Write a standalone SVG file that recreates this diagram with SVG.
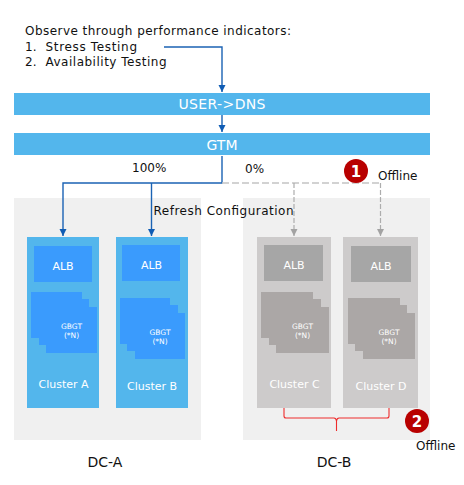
<svg xmlns="http://www.w3.org/2000/svg" width="464" height="485" viewBox="0 0 464 485">
<style>
text{font-family:"DejaVu Sans",Verdana,sans-serif;}
.k{fill:#111;font-size:12px}
.m{text-anchor:middle}
.w{fill:#fff;text-anchor:middle}
.bar{fill:#53b6ec}
.dc{fill:#f0f0f0}
.ca{fill:#53b6ec}.cg{fill:#cdcbcb}
.ia{fill:#3a9bfd}.ig{fill:#a6a6a6}.sg{fill:#aba7a6}
.l{fill:none;stroke:#1b63b4;stroke-width:1.4}
.d{fill:none;stroke:#c4c4c4;stroke-width:1.7;stroke-dasharray:7 3}
.d2{fill:none;stroke:#adadad;stroke-width:1.2;stroke-dasharray:5 2}
.b{fill:#b80000}
.n{fill:#fff;font-size:15px;font-weight:bold;text-anchor:middle}
.t{font-size:14px}
.a{font-size:11px}
.g{font-size:7.500px}
.c{font-size:11px}
.h{font-size:14px}
</style>
<defs>
<marker id="a" markerUnits="userSpaceOnUse" markerWidth="8" markerHeight="8" refX="7" refY="3.5" orient="auto"><path d="M0 0L7 3.5L0 7z" fill="#0f5cb4"/></marker>
<marker id="g" markerUnits="userSpaceOnUse" markerWidth="8" markerHeight="8" refX="7" refY="3.5" orient="auto"><path d="M0 0L7 3.5L0 7z" fill="#a3a3a3"/></marker>
</defs>
<g id="dc-a"><rect class="dc" x="14" y="198" width="187" height="242"/><text class="k m t" x="105" y="467">DC-A</text></g>
<g id="dc-b"><rect class="dc" x="243" y="198" width="187" height="242"/><text class="k m t" x="334" y="467">DC-B</text></g>
<g id="note"><text class="k" x="25" y="35" textLength="266">Observe through performance indicators:</text><text class="k" x="25" y="51">1.</text><text class="k" x="45.500" y="51" textLength="91.500">Stress Testing</text><text class="k" x="25" y="66">2.</text><text class="k" x="45.500" y="66" textLength="121">Availability Testing</text></g>
<g id="user-dns"><rect class="bar" x="14" y="93" width="416" height="22"/><text class="w h" x="222" y="109" textLength="87">USER-&gt;DNS</text></g>
<g id="gtm"><rect class="bar" x="14" y="133" width="416" height="22"/><text class="w h" x="222" y="150">GTM</text></g>
<g id="cluster-a"><rect class="ca" x="27" y="237" width="72" height="171"/><rect class="ia" x="34" y="246" width="58" height="36"/><text class="w a" x="63" y="269.500">ALB</text><path class="ia" d="M31 292H82V299H89V307H97V353H46V345H39V338H31z"/><text class="w g" x="71.500" y="329">GBGT</text><text class="w g" x="71.500" y="337.500">(*N)</text><text class="w c" x="63.500" y="388">Cluster A</text></g>
<g id="cluster-b"><rect class="ca" x="116" y="237" width="72" height="171"/><rect class="ia" x="122" y="245" width="58" height="36"/><text class="w a" x="151.500" y="268.500">ALB</text><path class="ia" d="M120 298H170V305H178V313H185V359H135V351H127V344H120z"/><text class="w g" x="160" y="335">GBGT</text><text class="w g" x="160" y="343.500">(*N)</text><text class="w c" x="152" y="390">Cluster B</text></g>
<g id="cluster-c"><rect class="cg" x="257" y="237" width="74" height="171"/><rect class="ig" x="264" y="245" width="59" height="36"/><text class="w a" x="294" y="268.500">ALB</text><path class="sg" d="M261 292H313V299H321V307H329V353H276V345H269V338H261z"/><text class="w g" x="302.500" y="329">GBGT</text><text class="w g" x="302.500" y="337.500">(*N)</text><text class="w c" x="294.500" y="388">Cluster C</text></g>
<g id="cluster-d"><rect class="cg" x="343" y="237" width="75" height="171"/><rect class="ig" x="351" y="246" width="60" height="36"/><text class="w a" x="381" y="269.500">ALB</text><path class="sg" d="M348 298H400V305H407V313H415V359H363V351H355V344H348z"/><text class="w g" x="389" y="335">GBGT</text><text class="w g" x="389" y="343.500">(*N)</text><text class="w c" x="381" y="390">Cluster D</text></g>
<g id="connectors">
<path class="l" marker-end="url(#a)" d="M164 47H222V92"/>
<path class="l" marker-end="url(#a)" d="M222 115V132"/>
<path class="l" marker-end="url(#a)" d="M222 156V183H63V236"/>
<path class="l" marker-end="url(#a)" d="M151.500 183V236"/>
<path class="d" d="M222 183H380"/>
<path class="d2" marker-end="url(#g)" d="M294 183V236"/>
<path class="d2" marker-end="url(#g)" d="M380.500 183V236"/>
<path d="M284 408V416Q284 418 286 418H334Q336 418 336.500 421V431M336.500 421Q337 418 339 418H387Q389 418 389 416V408" fill="none" stroke="#ee2c2c" stroke-width="1.1"/>
</g>
<g id="labels"><text class="k" x="132" y="172">100%</text><text class="k" x="245" y="173">0%</text><text class="k" x="153.500" y="215" textLength="140">Refresh Configuration</text></g>
<g id="offline-1"><circle class="b" cx="356" cy="171" r="12"/><text class="n" x="356" y="176.500">1</text><text class="k" x="378" y="180">Offline</text></g>
<g id="offline-2"><circle class="b" cx="417" cy="421" r="12"/><text class="n" x="417" y="426.500">2</text><text class="k" x="416" y="450">Offline</text></g>
</svg>
